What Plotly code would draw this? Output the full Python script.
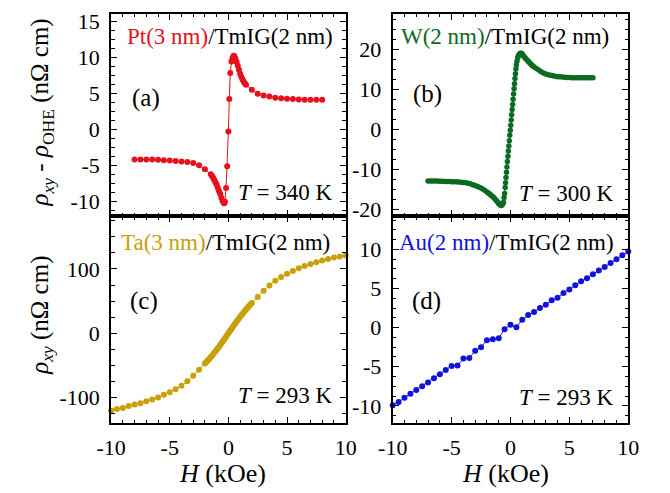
import plotly.graph_objects as go

# ---------------- data ----------------
H_a = [-8, -7.5, -7, -6.5, -6, -5.5, -5, -4.5, -4, -3.5, -3, -2.5, -2,
       -1.5, -1.4, -1.3, -1.2, -1.1, -1.0, -0.9, -0.8, -0.7, -0.6, -0.5, -0.4, -0.35, -0.3,
       -0.2, -0.1, 0.0, 0.08, 0.16, 0.26, 0.35, 0.45,
       0.5, 0.6, 0.7, 0.8, 0.9, 1.0, 1.1, 1.2, 1.3, 1.4, 1.5,
       2.0, 2.5, 3.0, 3.5, 4.0, 4.5, 5.0, 5.5, 6.0, 6.5, 7.0, 7.5, 8.0]
rho_a = [-4.15, -4.15, -4.15, -4.15, -4.2, -4.25, -4.3, -4.35, -4.45, -4.5, -4.65, -4.95, -5.5,
         -6.2, -6.45, -6.7, -7.0, -7.3, -7.65, -8.05, -8.5, -8.9, -9.45, -9.9, -10.15, -10.2, -10.0,
         -8.1, -5.1, -0.3, 4.2, 7.8, 9.4, 9.9, 10.2,
         10.15, 9.8, 9.35, 8.8, 8.25, 7.7, 7.3, 6.95, 6.65, 6.4, 6.2,
         5.5, 4.95, 4.7, 4.55, 4.4, 4.3, 4.25, 4.2, 4.15, 4.1, 4.1, 4.1, 4.1]

H_b = [-7.0, -6.8, -6.6, -6.4, -6.2, -6.0, -5.8, -5.6, -5.4, -5.2, -5.0, -4.8, -4.6, -4.4, -4.2,
       -4.0, -3.8, -3.6, -3.4, -3.2, -3.0, -2.8, -2.6, -2.4, -2.2, -2.0, -1.9, -1.8, -1.7, -1.6,
       -1.5, -1.4, -1.3, -1.2, -1.1, -1.0, -0.95, -0.9, -0.85, -0.8, -0.75, -0.7, -0.65, -0.6,
       -0.55, -0.5, -0.45, -0.42, -0.38, -0.34, -0.3, -0.26, -0.22, -0.18, -0.14, -0.1, -0.06,
       -0.02, 0.02, 0.06, 0.1, 0.14, 0.18, 0.22, 0.26, 0.3, 0.34, 0.38, 0.42, 0.46, 0.5, 0.55,
       0.6, 0.65, 0.7, 0.75, 0.8, 0.85, 0.9, 0.95, 1.0, 1.1, 1.2, 1.3, 1.4, 1.5, 1.6, 1.7, 1.8,
       1.9, 2.0, 2.2, 2.4, 2.6, 2.8, 3.0, 3.2, 3.4, 3.6, 3.8, 4.0, 4.2, 4.4, 4.6, 4.8, 5.0, 5.2,
       5.4, 5.6, 5.8, 6.0, 6.2, 6.4, 6.6, 6.8, 7.0]
rho_b = [-12.9, -12.9, -12.9, -12.9, -12.9, -12.95, -12.95, -13.0, -13.0, -13.0, -13.05, -13.1, -13.1, -13.15, -13.2,
         -13.25, -13.35, -13.45, -13.6, -13.8, -14.0, -14.25, -14.5, -14.85, -15.2, -15.65, -15.85, -16.1, -16.35, -16.6,
         -16.85, -17.1, -17.45, -17.8, -18.15, -18.5, -18.65, -18.8, -18.9, -19.0, -18.95, -18.8, -18.55, -18.2,
         -17.0, -16.0, -14.5, -13.3, -12.0, -10.7, -9.4, -8.0, -6.7, -5.4, -4.1, -2.8, -1.4,
         -0.2, 1.1, 2.4, 3.7, 5.0, 6.3, 7.6, 8.9, 10.2, 11.5, 12.8, 14.0, 15.2, 16.2, 17.1,
         17.9, 18.3, 18.6, 18.85, 19.0, 19.1, 19.1, 19.0, 18.9, 18.5, 18.1, 17.75, 17.4, 17.1, 16.8, 16.5, 16.2,
         15.95, 15.7, 15.3, 14.9, 14.5, 14.2, 13.95, 13.75, 13.6, 13.45, 13.35, 13.25, 13.2, 13.15, 13.1, 13.05, 13.05, 13.0,
         13.0, 13.0, 13.0, 13.0, 12.95, 12.95, 12.95, 12.95, 12.95]

H_c = [-10, -9.5, -9, -8.5, -8, -7.5, -7, -6.5, -6, -5.5, -5, -4.5, -4, -3.5, -3, -2.5,
       -2.0, -1.9, -1.8, -1.7, -1.6, -1.5, -1.4, -1.3, -1.2, -1.1, -1.0, -0.9, -0.8, -0.7, -0.6,
       -0.5, -0.4, -0.3, -0.2, -0.1, 0.0, 0.1, 0.2, 0.3, 0.4, 0.5, 0.6, 0.7, 0.8, 0.9, 1.0,
       1.1, 1.2, 1.3, 1.4, 1.5, 1.6, 1.7, 1.8, 1.9, 2.0,
       2.5, 3, 3.5, 4, 4.5, 5, 5.5, 6, 6.5, 7, 7.5, 8, 8.5, 9, 9.5, 10]
rho_c = [-120, -117.7, -116, -113, -110.6, -108.5, -105.6, -102.6, -99.5, -95.5, -91.5, -87, -81.5, -74.5, -66, -56.5,
         -47, -45.1, -43.1, -41.1, -39.0, -36.9, -34.7, -32.5, -30.2, -27.9, -25.6, -23.2, -20.8, -18.3, -15.8,
         -13.2, -10.6, -8.0, -5.3, -2.7, 0.0, 2.7, 5.3, 8.0, 10.6, 13.2, 15.8, 18.3, 20.8, 23.2, 25.6,
         27.9, 30.2, 32.5, 34.7, 36.9, 39.0, 41.1, 43.1, 45.1, 47,
         56.5, 66, 74.5, 81.5, 87.5, 92.5, 97, 101, 104.5, 107.6, 110.5, 113, 115.5, 117.7, 119.5, 121]

H_d = [-10, -9.5, -9, -8.5, -8, -7.5, -7, -6.5, -6, -5.5, -5, -4.5, -4, -3.5, -3, -2.5, -2, -1.5,
       -1, -0.5, 0, 0.5, 1, 1.5, 2, 2.5, 3, 3.5, 4, 4.5, 5, 5.5, 6, 6.5, 7, 7.5, 8, 8.5, 9, 9.5, 10]
rho_d = [-9.92, -9.5, -8.96, -8.46, -7.96, -7.5, -7.0, -6.46, -5.96, -5.42, -4.9, -4.85, -3.96, -3.88,
         -2.96, -2.5, -1.6, -1.5, -1.35, -0.21, 0.37, 0.04, 1.0, 1.62, 2.0, 2.5, 2.92, 3.5, 3.83, 4.42,
         4.88, 5.42, 5.92, 6.33, 6.83, 7.29, 7.75, 8.25, 8.75, 9.25, 9.75]

# tick labels (hyphen minus as in the reference)
x_tick_vals = [-10, -5, 0, 5, 10]
x_tick_text = ["-10", "-5", "0", "5", "10"]
ya_tick_vals = [-10, -5, 0, 5, 10, 15]
ya_tick_text = ["-10", "-5", "0", "5", "10", "15"]
yb_tick_vals = [-20, -10, 0, 10, 20]
yb_tick_text = ["-20", "-10", "0", "10", "20"]
yc_tick_vals = [-100, 0, 100]
yc_tick_text = ["-100", "0", "100"]
yd_tick_vals = [-10, -5, 0, 5, 10]
yd_tick_text = ["-10", "-5", "0", "5", "10"]

colors = ["#e3121c", "#0b6b22", "#c8a00a", "#1212dc"]
samples = ["Pt(3 nm)", "W(2 nm)", "Ta(3 nm)", "Au(2 nm)"]
temps = ["340", "300", "293", "293"]
panel_tags = ["(a)", "(b)", "(c)", "(d)"]
y_ranges = [[-12, 16], [-21.7, 29], [-140, 182], [-12.25, 14.25]]
y_ticks = [(ya_tick_vals, ya_tick_text), (yb_tick_vals, yb_tick_text),
           (yc_tick_vals, yc_tick_text), (yd_tick_vals, yd_tick_text)]
y_minor = [1.25, 2.5, 25, 1.25]

FONT = "Liberation Serif, Times New Roman, serif"
W, Hh = 670, 493

# panel pixel boxes (left, right, top, bottom)
boxes = [(100, 344, 9, 216), (393, 638, 9, 216), (100, 344, 216, 428), (393, 638, 216, 428)]

def px(x):
    return x / W

def py(y):
    return 1 - y / Hh

fig = go.Figure()
datasets = [(H_a, rho_a, 6), (H_b, rho_b, 5.5), (H_c, rho_c, 6), (H_d, rho_d, 6)]
for i, (hx, hy, ms) in enumerate(datasets):
    n = "" if i == 0 else str(i + 1)
    fig.add_trace(go.Scatter(
        x=hx, y=hy, mode="lines+markers", xaxis="x" + n, yaxis="y" + n,
        line=dict(color=colors[i], width=1), marker=dict(color=colors[i], size=ms),
        cliponaxis=False, showlegend=False))

layout = dict(
    width=W, height=Hh, margin=dict(l=0, r=0, t=0, b=0),
    paper_bgcolor="white", plot_bgcolor="white",
    font=dict(family=FONT, size=22, color="black"),
)
axis_common = dict(showline=True, linewidth=2, linecolor="black", mirror="ticks",
                   ticks="inside", ticklen=6, tickwidth=1, tickcolor="black",
                   showgrid=False, zeroline=False, tickmode="array",
                   tickfont=dict(family=FONT, size=22, color="black"))
for i, (l, r, t, b) in enumerate(boxes):
    n = "" if i == 0 else str(i + 1)
    xa = dict(axis_common, domain=[px(l), px(r)], range=[-10, 10],
              tickvals=x_tick_vals, ticktext=x_tick_text,
              anchor="y" + n, showticklabels=(i >= 2), ticklabelstandoff=3,
              minor=dict(tickmode="linear", tick0=0, dtick=1, ticklen=3.5, ticks="inside",
                         tickcolor="black", tickwidth=1))
    ya = dict(axis_common, domain=[py(b), py(t)], range=y_ranges[i],
              tickvals=y_ticks[i][0], ticktext=y_ticks[i][1],
              anchor="x" + n, ticklabelstandoff=5,
              minor=dict(tickmode="linear", tick0=0, dtick=y_minor[i], ticklen=3.5, ticks="inside",
                         tickcolor="black", tickwidth=1))
    layout["xaxis" + n] = xa
    layout["yaxis" + n] = ya

ann = []
label_pos = [(333, 32), (620, 32), (330, 243), (625, 243)]
tag_pos = [(120, 95), (412, 91), (118, 303), (411, 303)]
temp_pos = [(333, 192), (625, 193), (333, 399), (625, 401)]
for i in range(4):
    ann.append(dict(xref="paper", yref="paper", x=px(label_pos[i][0]), y=py(label_pos[i][1]),
                    xanchor="right", yanchor="middle", showarrow=False,
                    text=f"<span style='color:{colors[i]}'>{samples[i]}</span>/TmIG(2 nm)",
                    font=dict(family=FONT, size=23, color="black")))
    ann.append(dict(xref="paper", yref="paper", x=px(tag_pos[i][0]), y=py(tag_pos[i][1]),
                    xanchor="left", yanchor="middle", showarrow=False, text=panel_tags[i],
                    font=dict(family=FONT, size=25, color="black")))
    ann.append(dict(xref="paper", yref="paper", x=px(temp_pos[i][0]), y=py(temp_pos[i][1]),
                    xanchor="right", yanchor="middle", showarrow=False,
                    text=f"<i>T</i> = {temps[i]} K",
                    font=dict(family=FONT, size=23, color="black")))

ann.append(dict(xref="paper", yref="paper", x=px(28), y=py(110), textangle=-90,
                xanchor="center", yanchor="middle", showarrow=False,
                text="<i>ρ</i><sub><i>xy</i></sub> - <i>ρ</i><sub>OHE</sub> (nΩ cm)",
                font=dict(family=FONT, size=25, color="black")))
ann.append(dict(xref="paper", yref="paper", x=px(28), y=py(317), textangle=-90,
                xanchor="center", yanchor="middle", showarrow=False,
                text="<i>ρ</i><sub><i>xy</i></sub> (nΩ cm)",
                font=dict(family=FONT, size=25, color="black")))
for cx in (216, 510):
    ann.append(dict(xref="paper", yref="paper", x=px(cx), y=py(479),
                    xanchor="center", yanchor="middle", showarrow=False,
                    text="<i>H</i> (kOe)", font=dict(family=FONT, size=26, color="black")))
layout["annotations"] = ann

fig.update_layout(**layout)
fig.write_html("out.html")
